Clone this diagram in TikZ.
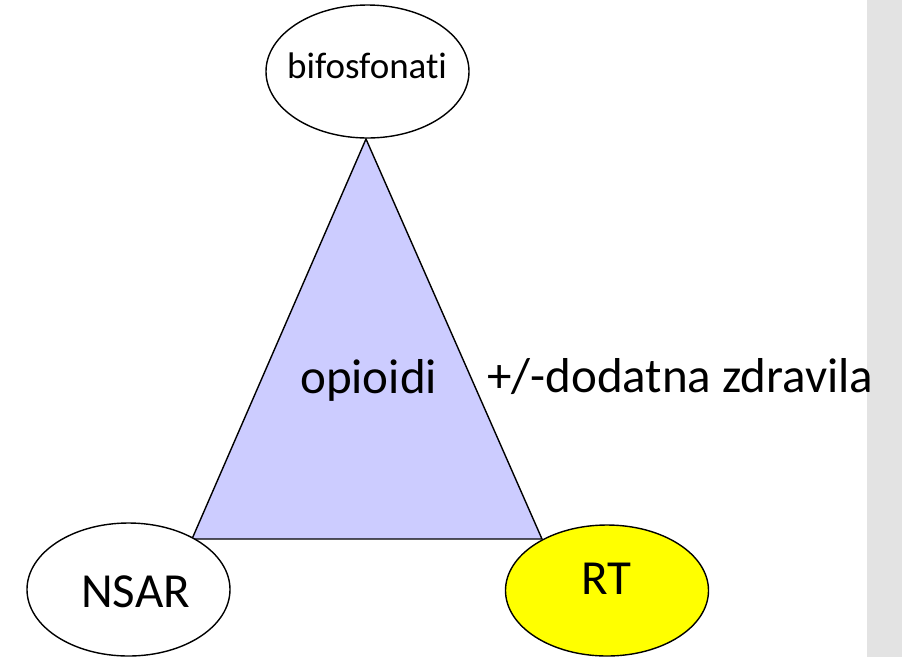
\documentclass[tikz,border=0pt]{standalone}
\usepackage{fontspec}
\setmainfont[Ligatures={NoCommon,NoRare}]{Carlito}
\usetikzlibrary{shapes.geometric}
\definecolor{triblue}{HTML}{CCCCFF}
\definecolor{stripgrey}{HTML}{E3E3E3}
\definecolor{rtyellow}{HTML}{FFFF00}
\tikzset{
  oval/.style={ellipse, draw=black, line width=1.4pt, minimum width=203pt, minimum height=133pt, inner sep=0pt},
  bigtxt/.style={font=\fontsize{49}{52}\selectfont, inner sep=0pt, anchor=base west},
  smalltxt/.style={font=\fontsize{37}{40}\selectfont, inner sep=0pt, anchor=base west}
}
\begin{document}
\begin{tikzpicture}[x=1pt,y=-1pt]
\useasboundingbox (0,0) rectangle (902,657);
\fill[white] (0,0) rectangle (902,657);
\fill[stripgrey] (867,0) rectangle (902,657);
% triangle
\coordinate (apex) at (366,139);
\coordinate (bl) at (192,539);
\coordinate (br) at (542,539);
\filldraw[fill=triblue, draw=black, line width=1.4pt, line join=miter] (apex) -- (bl) -- (br) -- cycle;
% ellipses
\node[oval, fill=white] (bif) at (367.5,71.5) {};
\node[oval, fill=white] (nsar) at (128.5,589.5) {};
\node[oval, fill=rtyellow, minimum height=131pt] (rt) at (607,590.5) {};
% texts
\node[smalltxt] (tbif) at (287,78) {bifosfonati};
\node[bigtxt] (top) at (300,393) {opioidi};
\node[bigtxt] (tdod) at (487,392) {+/-dodatna zdravila};
\node[bigtxt] (tnsar) at (81,607) {NSAR};
\node[bigtxt] (trt) at (581,594) {RT};
\end{tikzpicture}
\end{document}
